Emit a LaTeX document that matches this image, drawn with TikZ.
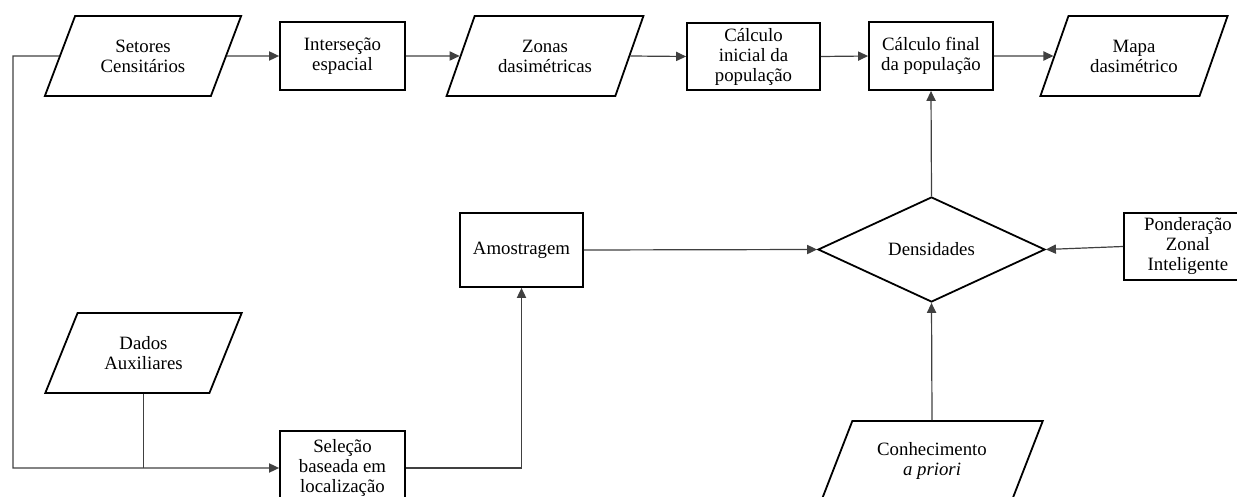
\documentclass[tikz,border=0pt]{standalone}
\usepackage{fontspec}
\setmainfont{Liberation Serif}
\usetikzlibrary{arrows.meta,shapes.geometric}

\begin{document}
\begin{tikzpicture}[x=0.5pt,y=-0.5pt]
        \tikzstyle{every node}+=[inner sep=0pt,align=center,font=\fontsize{9.4}{10}\selectfont]
        \tikzstyle{proc}=[draw,line width=0.9pt,rectangle]
        \tikzstyle{dado}=[draw,line width=0.9pt,trapezium,trapezium left angle=60,trapezium right angle=120,trapezium stretches=true]
        \tikzstyle{flecha}=[line width=0.6pt,black!75,-{Triangle[length=5pt,width=4.6pt]}]
        \tikzstyle{linha}=[line width=0.6pt,black!75]
        \useasboundingbox (0,0) rectangle (1237,497);
        \clip (0,0) rectangle (1237,497);
        % linha superior
        \node [dado,minimum width=98.5pt,minimum height=40pt] (setores) at (143,56) {Setores\\Censitários};
        \node [proc,minimum width=62.5pt,minimum height=34pt] (inters) at (342.5,56) {Interseção\\espacial};
        \node [dado,minimum width=98.5pt,minimum height=40pt] (zonas) at (545,56) {Zonas\\dasimétricas};
        \node [proc,minimum width=66.5pt,minimum height=33.5pt] (calcini) at (753.5,56.5) {Cálculo\\inicial da\\população};
        \node [proc,minimum width=62pt,minimum height=34pt] (calcfin) at (931,56) {Cálculo final\\da população};
        \node [dado,minimum width=94pt,minimum height=40pt] (mapa) at (1134,56) {Mapa\\dasimétrico};
        % meio
        \node [proc,minimum width=61.5pt,minimum height=37pt] (amostra) at (521.5,250) {Amostragem};
        \node [draw,line width=0.9pt,diamond,aspect=2.16,minimum width=113.5pt,minimum height=52.5pt] (dens) at (931.5,249.5) {Densidades};
        \node [proc,minimum width=64pt,minimum height=33.5pt,anchor=west] (ponder) at (1123,246.5) {Ponderação\\Zonal\\Inteligente};
        % linha inferior
        \node [dado,minimum width=98.5pt,minimum height=40pt] (dados) at (143.5,353) {Dados\\Auxiliares};
        \node [proc,minimum width=62.5pt,minimum height=37pt] (selecao) at (342.5,468) {Seleção\\baseada em\\localização};
        \node [dado,minimum width=111pt,minimum height=40pt] (conhec) at (932,461) {Conhecimento\\\textit{a priori}};
        \coordinate (canto1) at (13,56);
        \coordinate (canto2) at (canto1 |- selecao.west);
        \coordinate (juncao) at (dados.south |- selecao.west);
        % conexoes
        \draw [flecha] (setores.east) -- (inters.west);
        \draw [flecha] (inters.east) -- (zonas.west);
        \draw [flecha] (zonas.east) -- (calcini.west);
        \draw [flecha] (calcini.east) -- (calcfin.west);
        \draw [flecha] (calcfin.east) -- (mapa.west);
        \draw [flecha] (setores.west) -- (canto1) -- (canto2) -- (selecao.west);
        \draw [linha] (dados.south) -- (juncao);
        \draw [flecha] (selecao.east) -| (amostra.south);
        \draw [flecha] (amostra.east) -- (dens.west);
        \draw [flecha] (ponder.west) -- (dens.east);
        \draw [flecha] (dens.north) -- (calcfin.south);
        \draw [flecha] (conhec.north) -- (dens.south);
\end{tikzpicture}
\end{document}
